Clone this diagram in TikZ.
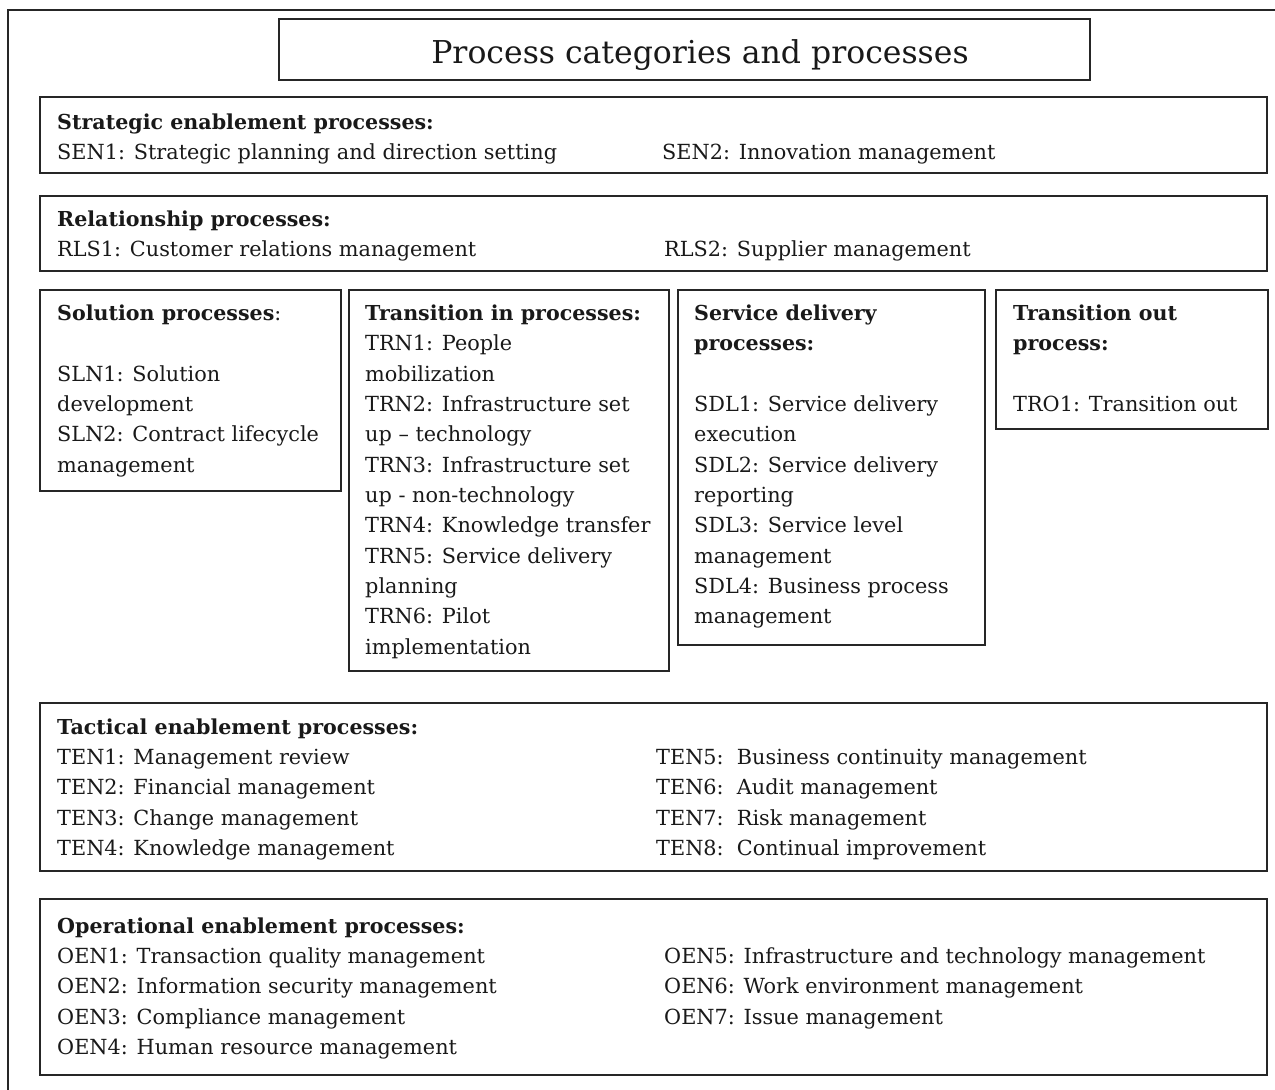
\documentclass[tikz,border=0pt]{standalone}
\usepackage{fontspec}
\setmainfont{DejaVu Serif}
\newcommand\txfont{\fontsize{20.8}{25}\selectfont}
\newcommand\hdfont{\fontsize{20.6}{25}\selectfont\bfseries}
\newcommand\ttlfont{\fontsize{31.5}{36}\selectfont}
\tikzset{
  box/.style={draw=black!85, line width=1.5pt},
  frame/.style={draw=black!85, line width=1.5pt},
  hd/.style={anchor=base west, inner sep=0pt, font=\hdfont, text=black!90},
  tx/.style={anchor=base west, inner sep=0pt, font=\txfont, text=black!90},
}
\begin{document}
\begin{tikzpicture}[x=1pt,y=-1pt]
\useasboundingbox (0,0) rectangle (1275,1090);
\fill[white] (0,0) rectangle (1275,1090);
% outer frame (clipped at right and bottom)
\draw[frame] (8,1100) -- (8,10) -- (1290,10);
% title
\draw[box] (279,19) rectangle (1090,80);
\node[anchor=base, inner sep=0pt, font=\ttlfont, text=black!90] (title) at (700,63) {Process categories and processes};
% SEN
\draw[box] (40,97) rectangle (1267,173);
\node[hd] (senh) at (57,129.5) {Strategic enablement processes:};
\node[tx] (sen1) at (57,159.5) {SEN1: Strategic planning and direction setting};
\node[tx] (sen2) at (662,159.5) {SEN2: Innovation management};
% RLS
\draw[box] (40,196) rectangle (1267,271);
\node[hd] (rlsh) at (57,226.5) {Relationship processes:};
\node[tx] (rls1) at (57,256.5) {RLS1: Customer relations management};
\node[tx] (rls2) at (664,256.5) {RLS2: Supplier management};
% SLN
\draw[box] (40,290) rectangle (341,491);
\node[hd] (slnh) at (57,320.5) {Solution processes\mdseries:};
\node[tx] (sln1a) at (57,381.2) {SLN1: Solution};
\node[tx] (sln1b) at (57,411.5) {development};
\node[tx] (sln2a) at (57,441.8) {SLN2: Contract lifecycle};
\node[tx] (sln2b) at (57,472.2) {management};
% TRN
\draw[box] (349,290) rectangle (669,671);
\node[hd] (trnh) at (365,320.5) {Transition in processes:};
\node[tx] (trn1a) at (365,350.8) {TRN1: People};
\node[tx] (trn1b) at (365,381.2) {mobilization};
\node[tx] (trn2a) at (365,411.5) {TRN2: Infrastructure set};
\node[tx] (trn2b) at (365,441.8) {up -- technology};
\node[tx] (trn3a) at (365,472.2) {TRN3: Infrastructure set};
\node[tx] (trn3b) at (365,502.5) {up - non-technology};
\node[tx] (trn4) at (365,532.8) {TRN4: Knowledge transfer};
\node[tx] (trn5a) at (365,563.2) {TRN5: Service delivery};
\node[tx] (trn5b) at (365,593.5) {planning};
\node[tx] (trn6a) at (365,623.8) {TRN6: Pilot};
\node[tx] (trn6b) at (365,654.2) {implementation};
% SDL
\draw[box] (678,290) rectangle (985,645);
\node[hd] (sdlha) at (694,320.5) {Service delivery};
\node[hd] (sdlhb) at (694,350.8) {processes:};
\node[tx] (sdl1a) at (694,411.5) {SDL1: Service delivery};
\node[tx] (sdl1b) at (694,441.8) {execution};
\node[tx] (sdl2a) at (694,472.2) {SDL2: Service delivery};
\node[tx] (sdl2b) at (694,502.5) {reporting};
\node[tx] (sdl3a) at (694,532.8) {SDL3: Service level};
\node[tx] (sdl3b) at (694,563.2) {management};
\node[tx] (sdl4a) at (694,593.5) {SDL4: Business process};
\node[tx] (sdl4b) at (694,623.8) {management};
% TRO
\draw[box] (996,290) rectangle (1268,429);
\node[hd] (troha) at (1013,320.5) {Transition out};
\node[hd] (trohb) at (1013,350.8) {process:};
\node[tx] (tro1) at (1013,411.5) {TRO1: Transition out};
% TEN
\draw[box] (40,703) rectangle (1267,871);
\node[hd] (tenh) at (57,734.5) {Tactical enablement processes:};
\node[tx] (ten1) at (57,764.5) {TEN1: Management review};
\node[tx] (ten2) at (57,794.8) {TEN2: Financial management};
\node[tx] (ten3) at (57,825.2) {TEN3: Change management};
\node[tx] (ten4) at (57,855.5) {TEN4: Knowledge management};
\node[tx] (ten5) at (656,764.5) {TEN5:\ \ Business continuity management};
\node[tx] (ten6) at (656,794.8) {TEN6:\ \ Audit management};
\node[tx] (ten7) at (656,825.2) {TEN7:\ \ Risk management};
\node[tx] (ten8) at (656,855.5) {TEN8:\ \ Continual improvement};
% OEN
\draw[box] (40,899) rectangle (1267,1075);
\node[hd] (oenh) at (57,933.5) {Operational enablement processes:};
\node[tx] (oen1) at (57,963.5) {OEN1: Transaction quality management};
\node[tx] (oen2) at (57,993.8) {OEN2: Information security management};
\node[tx] (oen3) at (57,1024.2) {OEN3: Compliance management};
\node[tx] (oen4) at (57,1054.5) {OEN4: Human resource management};
\node[tx] (oen5) at (664,963.5) {OEN5: Infrastructure and technology management};
\node[tx] (oen6) at (664,993.8) {OEN6: Work environment management};
\node[tx] (oen7) at (664,1024.2) {OEN7: Issue management};
\end{tikzpicture}
\end{document}
